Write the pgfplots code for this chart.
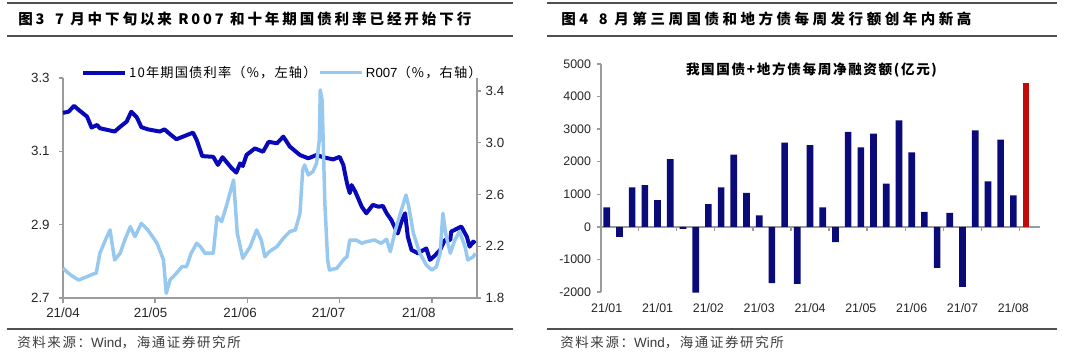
\documentclass[border=0pt]{standalone}
\usepackage{fontspec}
\setmainfont{Liberation Sans}
\newfontfamily\cjk{Noto Sans CJK SC}
\newfontfamily\cjkL[LetterSpace=9]{Noto Sans CJK SC}
\newfontfamily\cjkA[LetterSpace=20]{Noto Sans CJK SC}
\newfontfamily\cjkB[LetterSpace=24]{Noto Sans CJK SC}
\newfontfamily\cjkC[LetterSpace=12]{Noto Sans CJK SC}
\usepackage{pgfplots}
\pgfplotsset{compat=1.18}
\definecolor{axgray}{RGB}{155,155,155}
\definecolor{rulegray}{RGB}{80,80,80}
\definecolor{dblue}{RGB}{8,8,185}
\definecolor{lblue}{RGB}{150,200,240}
\definecolor{navy}{RGB}{10,10,120}
\definecolor{bred}{RGB}{195,10,10}
\definecolor{srcgray}{RGB}{60,60,60}
\begin{document}
\begin{tikzpicture}
\fill[white] (0,0) rectangle (810pt,-267pt);
\path[use as bounding box] (0,0) rectangle (810pt,-267pt);
% rules
\draw[rulegray, line width=1.1pt] (5.25pt,-2.25pt) -- (384.75pt,-2.25pt);
\draw[rulegray, line width=1.1pt] (5.25pt,-27pt) -- (384.75pt,-27pt);
\draw[rulegray, line width=1.1pt] (5.25pt,-246.75pt) -- (384.75pt,-246.75pt);
\draw[rulegray, line width=1.1pt] (410.25pt,-2.25pt) -- (792.75pt,-2.25pt);
\draw[rulegray, line width=1.1pt] (410.25pt,-27pt) -- (792.75pt,-27pt);
\draw[rulegray, line width=1.1pt] (410.25pt,-246.75pt) -- (792.75pt,-246.75pt);
% titles
\node[anchor=west, inner sep=0pt] at (13.5pt,-14.25pt) {\cjkA\bfseries\fontsize{10.9pt}{12pt}\selectfont 图3\hspace{8pt}7 月中下旬以来 R007 和十年期国债利率已经开始下行};
\node[anchor=west, inner sep=0pt] at (420.75pt,-14.25pt) {\cjkB\bfseries\fontsize{10.9pt}{12pt}\selectfont 图4\hspace{8pt}8 月第三周国债和地方债每周发行额创年内新高};
% sources
\node[anchor=west, inner sep=0pt, text=srcgray] at (12.75pt,-257.25pt) {\cjkC\fontsize{10.1pt}{11pt}\selectfont 资料来源：\rmfamily Wind\cjkC，海通证券研究所};
\node[anchor=west, inner sep=0pt, text=srcgray] at (420pt,-257.25pt) {\cjkC\fontsize{10.1pt}{11pt}\selectfont 资料来源：\rmfamily Wind\cjkC，海通证券研究所};

% ---------- left chart, left axis ----------
\begin{axis}[
  at={(47.25pt,-223.5pt)}, anchor=south west,
  scale only axis, width=310.5pt, height=165pt,
  xmin=0, xmax=4.49, ymin=2.7, ymax=3.3,
  axis x line*=bottom, axis y line*=left,
  axis line style={draw=axgray, line width=1.1pt, -},
  tick style={draw=axgray, line width=1.1pt},
  tick align=outside,
  major tick length=3pt, minor tick length=4pt,
  xtick={0,0.95,1.92,2.88,3.86},
  xticklabels={21/04,21/05,21/06,21/07,21/08},
  major x tick style={draw=none},
  minor xtick={0,1,2,3,4},
  ytick={2.7,2.9,3.1,3.3},
  yticklabel style={xshift=-3.5pt, /pgf/number format/.cd, fixed, fixed zerofill, precision=1},
  xticklabel style={yshift=-1pt},
  ticklabel style={font=\fontsize{10pt}{12pt}\selectfont, text=black!85},
  /pgf/number format/assume math mode=true,
  clip=false,
]
\addplot[dblue, line width=3pt, line join=round] coordinates {
(0.00,3.205) (0.06,3.208) (0.12,3.224) (0.18,3.211) (0.26,3.195) (0.31,3.165) (0.37,3.172) (0.40,3.163) (0.56,3.154) (0.62,3.167) (0.69,3.181) (0.74,3.208) (0.80,3.193) (0.85,3.166) (0.92,3.160) (1.05,3.154) (1.10,3.160) (1.16,3.147) (1.23,3.133) (1.34,3.144) (1.41,3.151) (1.45,3.131) (1.51,3.087) (1.63,3.085) (1.68,3.063) (1.73,3.084) (1.83,3.054) (1.88,3.042) (1.92,3.067) (1.95,3.060) (1.99,3.090) (2.08,3.108) (2.17,3.099) (2.23,3.126) (2.32,3.122) (2.39,3.140) (2.46,3.113) (2.57,3.090) (2.66,3.081) (2.75,3.090) (2.82,3.084) (2.93,3.078) (3.00,3.085) (3.04,3.063) (3.08,3.013) (3.11,2.986) (3.13,3.008) (3.17,2.990) (3.24,2.949) (3.29,2.931) (3.36,2.954) (3.42,2.949) (3.47,2.951) (3.51,2.931) (3.56,2.913) (3.63,2.876) (3.67,2.908) (3.71,2.931) (3.74,2.867) (3.78,2.831) (3.85,2.822) (3.91,2.831) (3.94,2.835) (3.98,2.804) (4.03,2.815) (4.09,2.831) (4.14,2.858) (4.20,2.858) (4.21,2.881) (4.25,2.886) (4.32,2.895) (4.38,2.867) (4.41,2.840) (4.45,2.854) (4.47,2.849)
};
\end{axis}

% ---------- left chart, right axis ----------
\begin{axis}[
  at={(47.25pt,-223.5pt)}, anchor=south west,
  scale only axis, width=310.5pt, height=165pt,
  xmin=0, xmax=4.49, ymin=1.8, ymax=3.5,
  axis x line=none, axis y line*=right,
  axis line style={draw=axgray, line width=1.1pt, -},
  tick style={draw=axgray, line width=1.1pt},
  tick align=outside, major tick length=3pt,
  ytick={1.8,2.2,2.6,3.0,3.4},
  yticklabel style={/pgf/number format/.cd, fixed, fixed zerofill, precision=1},
  ticklabel style={font=\fontsize{10pt}{12pt}\selectfont, text=black!85},
  /pgf/number format/assume math mode=true,
  clip=false,
  legend columns=2,
  legend image code/.code={\draw[#1] (0pt,0pt) -- (31.5pt,0pt);},
  legend style={at={(0.043,1.025)}, anchor=west, draw=none, fill=none,
    inner sep=0pt, font=\cjkL\fontsize{9.9pt}{11pt}\selectfont,
    nodes={inner sep=1.5pt},
    /tikz/every even column/.append style={column sep=0pt}},
]
\addlegendimage{dblue, line width=3pt}
\addlegendentry{10年期国债利率（\%，左轴）}
\addplot[lblue, line width=2.6pt, line join=round] coordinates {
(0.00,2.030) (0.06,1.991) (0.12,1.960) (0.17,1.939) (0.26,1.965) (0.33,1.986) (0.36,1.991) (0.40,2.146) (0.46,2.248) (0.51,2.326) (0.56,2.094) (0.62,2.146) (0.67,2.248) (0.73,2.351) (0.78,2.274) (0.85,2.377) (0.92,2.326) (1.02,2.223) (1.09,2.094) (1.12,1.836) (1.16,1.939) (1.23,1.991) (1.29,2.042) (1.34,2.042) (1.39,2.146) (1.45,2.223) (1.49,2.197) (1.54,2.146) (1.63,2.146) (1.67,2.428) (1.72,2.390) (1.77,2.506) (1.85,2.712) (1.89,2.300) (1.95,2.107) (2.03,2.197) (2.10,2.326) (2.15,2.248) (2.19,2.119) (2.24,2.160) (2.32,2.197) (2.39,2.262) (2.46,2.313) (2.52,2.326) (2.55,2.403) (2.57,2.455) (2.60,2.789) (2.62,2.828) (2.66,2.751) (2.71,2.776) (2.75,2.841) (2.78,3.021) (2.79,3.408) (2.81,3.331) (2.84,2.532) (2.87,2.094) (2.89,2.016) (2.97,2.030) (3.04,2.094) (3.08,2.119) (3.11,2.248) (3.18,2.248) (3.24,2.223) (3.29,2.235) (3.38,2.248) (3.45,2.223) (3.51,2.254) (3.55,2.158) (3.60,2.313) (3.67,2.480) (3.72,2.596) (3.75,2.506) (3.80,2.300) (3.87,2.146) (3.94,2.055) (4.00,2.016) (4.05,2.042) (4.09,2.146) (4.12,2.455) (4.15,2.300) (4.20,2.146) (4.25,2.248) (4.30,2.313) (4.36,2.197) (4.39,2.094) (4.45,2.119) (4.47,2.146)
};
\addlegendentry{{\rmfamily R007}（\%，右轴）}
\end{axis}

% ---------- right chart ----------
\begin{axis}[
  at={(450.75pt,-219pt)}, anchor=south west,
  scale only axis, width=329.25pt, height=171pt,
  xmin=0.55, xmax=35.1, ymin=-2000, ymax=5000,
  axis x line*=middle, axis y line*=left,
  axis line style={draw=axgray, line width=1.1pt, -},
  tick style={draw=axgray, line width=1.1pt},
  tick align=outside,
  major tick length=3pt, minor tick length=3pt,
  ytick={-2000,-1000,0,1000,2000,3000,4000,5000},
  yticklabel style={xshift=-1pt, /pgf/number format/.cd, fixed, 1000 sep={}},
  scaled y ticks=false,
  xtick={1,5,9,13,17,21,25,29,33},
  xticklabels={21/01,21/01,21/02,21/03,21/04,21/05,21/06,21/07,21/08},
  major x tick style={draw=none},
  minor xtick={3.5,6.5,9.5,12.5,15.5,18.5,21.5,24.5,27.5,30.5,33.5},
  xticklabel style={yshift=-51pt},
  ticklabel style={font=\fontsize{9.3pt}{11pt}\selectfont, text=black!85},
  /pgf/number format/assume math mode=true,
  clip=false,
]
\addplot[ybar, bar width=5pt, bar shift=0pt, fill=navy, draw=none] coordinates {
(1,600) (2,-310) (3,1210) (4,1280) (5,820) (6,2080) (7,-60) (8,-2020) (9,700) (10,1210) (11,2220) (12,1040) (13,350) (14,-1730) (15,2590) (16,-1750) (17,2510) (18,600) (19,-470) (20,2920) (21,2440) (22,2860) (23,1330) (24,3270) (25,2290) (26,460) (27,-1260) (28,430) (29,-1840) (30,2960) (31,1400) (32,2680) (33,970)
};
\addplot[ybar, bar width=5pt, bar shift=0pt, fill=bred, draw=none] coordinates {(34,4410)};
\end{axis}
\node[inner sep=0pt] at (608.6pt,-52.5pt) {\cjkC\bfseries\fontsize{10.2pt}{12pt}\selectfont 我国国债+地方债每周净融资额(亿元)};
\end{tikzpicture}
\end{document}
